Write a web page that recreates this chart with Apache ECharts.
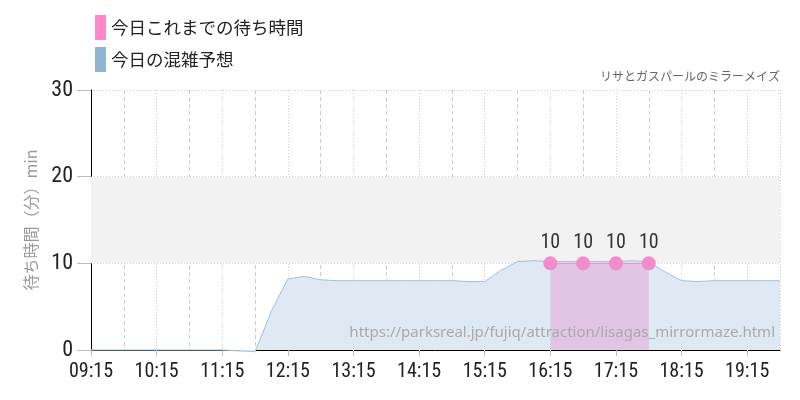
<!DOCTYPE html>
<html><head><meta charset="utf-8">
<script src="https://cdn.jsdelivr.net/npm/echarts@6/dist/echarts.min.js"></script>
<style>html,body{margin:0;padding:0;background:#fff}#c{width:800px;height:400px}</style>
</head><body><div id="c"></div>
<script>
const times = ['09:15','09:30','09:45','10:00','10:15','10:30','10:45','11:00','11:15','11:30','11:45',
  '12:00','12:15','12:30','12:45','13:00','13:15','13:30','13:45','14:00','14:15','14:30','14:45',
  '15:00','15:15','15:30','15:45','16:00','16:15','16:30','16:45','17:00','17:15','17:30','17:45',
  '18:00','18:15','18:30','18:45','19:00','19:15','19:30','19:45'];
const forecast = [0,0,0,0,0,0,0,0,0,-0.1,-0.2,
  4.5,8.2,8.5,8.1,8.0,8.0,8.0,8.0,8.0,8.0,8.0,8.0,
  7.9,7.9,9.2,10.2,10.3,10.2,10.2,10.2,10.2,10.2,10.3,10.2,
  9.0,8.0,7.9,8.0,8.0,8.0,8.0,8.0];
const actualTimes = ['16:15','16:45','17:15','17:45'];
const actual = [10,10,10,10];
const seriesNames = ['今日これまでの待ち時間','今日の混雑予想'];
const title = 'リサとガスパールのミラーメイズ';
const yName = '待ち時間（分）min';
const url = 'https://parksreal.jp/fujiq/attraction/lisagas_mirrormaze.html';

const base = 9*60+15;
const toMin = s => { const [h,m] = s.split(':').map(Number); return h*60+m-base; };
const fmt = v => { const t = v+base; const h = Math.floor(t/60), m = t%60; return String(h).padStart(2,'0')+':'+String(m).padStart(2,'0'); };
const cond = "'Roboto Condensed','Liberation Sans Narrow','DejaVu Sans Condensed',sans-serif";
const jp = "'Noto Sans CJK JP','Noto Sans',sans-serif";

const chart = echarts.init(document.getElementById('c'));
chart.setOption({
  animation:false,
  backgroundColor:'#fff',
  grid:{left:91,right:20,top:90,bottom:50},
  legend:{
    orient:'vertical', left:90, top:10, itemWidth:11, itemHeight:25, itemGap:7, icon:'rect',
    textStyle:{fontSize:17.5,color:'#222',fontFamily:jp},
    data:[{name:seriesNames[0],itemStyle:{color:'#ff88cc'}},{name:seriesNames[1],itemStyle:{color:'#92b4d2'}}]
  },
  graphic:[
    {type:'text',right:20,top:70,style:{text:title,fontSize:12,fill:'#666',fontFamily:jp}},
    {type:'text',right:25,top:325,z:100,style:{text:url,fontSize:15,fill:'#aaa',fontFamily:"'Noto Sans',sans-serif"}}
  ],
  xAxis:{
    type:'value', min:0, max:630, interval:60,
    axisLine:{show:true,lineStyle:{color:'#000',width:1}},
    axisTick:{show:true,length:6,lineStyle:{color:'#bbb'}},
    axisLabel:{formatter:fmt,fontSize:20,color:'#222',fontFamily:cond,margin:12,showMaxLabel:false},
    splitLine:{show:true,lineStyle:{color:'#ccc',type:[1,2]}},
    minorTick:{show:false,splitNumber:2},
    minorSplitLine:{show:true,lineStyle:{color:'#ccc',type:[4,3]}}
  },
  yAxis:{
    type:'value', min:0, max:30, interval:10,
    name:yName, nameLocation:'middle', nameGap:52, nameRotate:90,
    nameTextStyle:{fontSize:16,color:'#999',fontFamily:jp},
    axisLine:{show:true,lineStyle:{color:'#000',width:1}},
    axisTick:{show:true,length:14,lineStyle:{color:'#bbb'}},
    axisLabel:{fontSize:22,color:'#222',fontFamily:cond,margin:18},
    splitLine:{show:true,lineStyle:{color:'#ccc',type:[1,2]}}
  },
  series:[
    {
      name:seriesNames[1], type:'line', z:2, symbol:'none', clip:false,
      data:times.map((t,i)=>[toMin(t),forecast[i]]),
      lineStyle:{color:'#a3c0dc',width:1},
      itemStyle:{color:'#92b4d2'},
      areaStyle:{color:'#dfe9f3',opacity:1},
      markArea:{silent:true,itemStyle:{color:'#f2f2f2'},data:[[{yAxis:10},{yAxis:20}]]}
    },
    {
      name:seriesNames[0], type:'line', z:3, symbol:'circle', symbolSize:14,
      data:actualTimes.map((t,i)=>[toMin(t),actual[i]]),
      lineStyle:{color:'#e58cc6',width:1},
      itemStyle:{color:'#f28ccb'},
      areaStyle:{color:'rgba(230,150,210,0.45)',opacity:1},
      label:{show:true,position:'top',distance:3,fontSize:20,color:'#333',fontFamily:cond}
    }
  ]
});
</script></body></html>
